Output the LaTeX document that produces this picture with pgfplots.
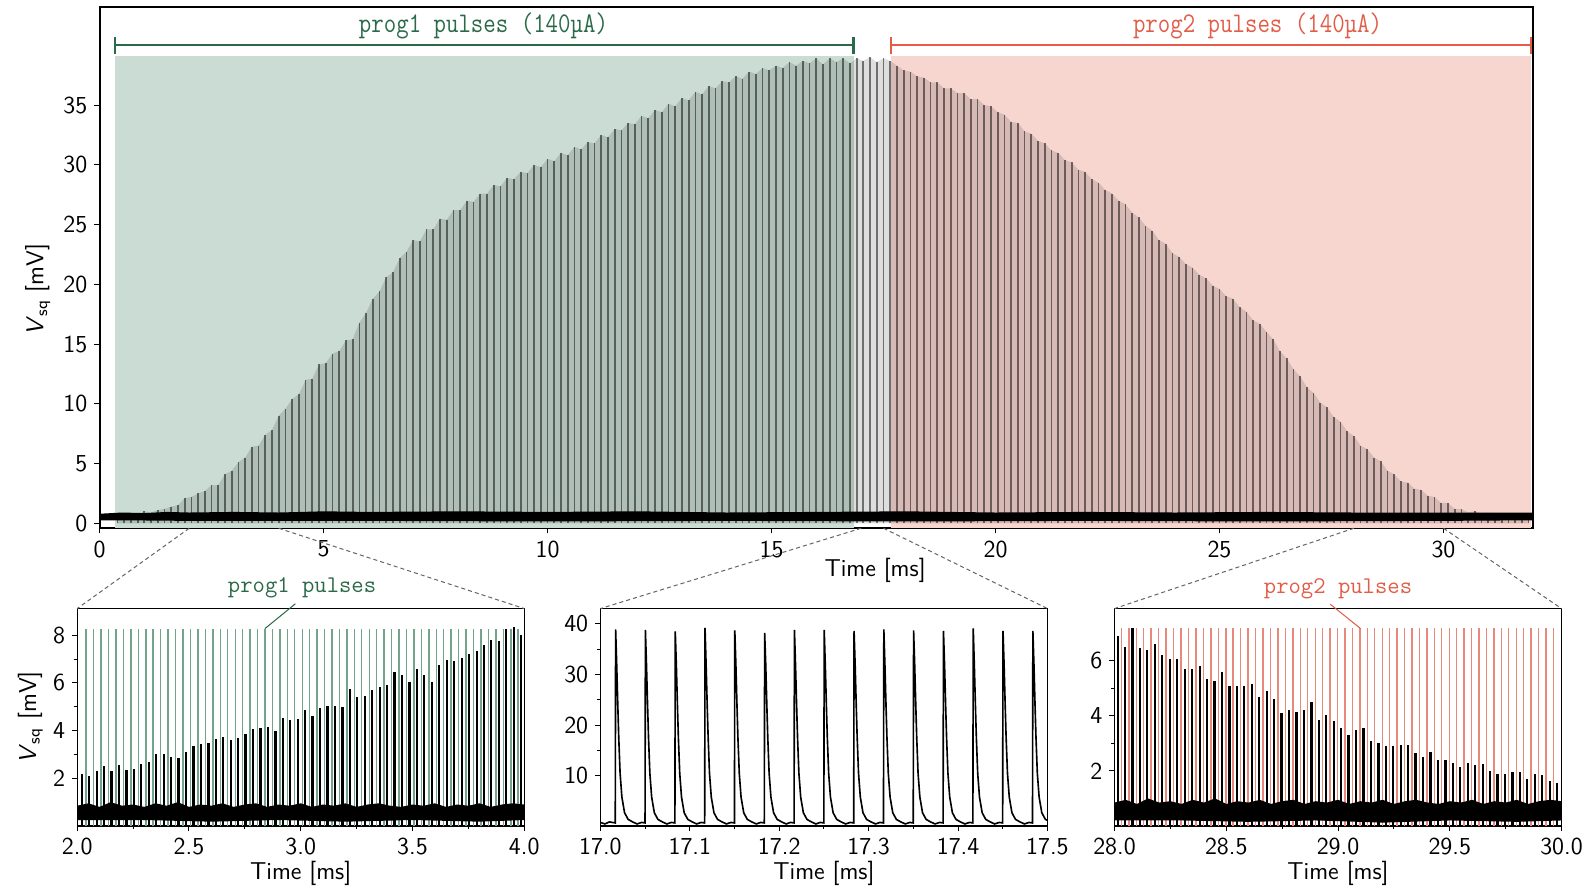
\documentclass[border=0pt]{standalone}
\usepackage{fontspec}
\usepackage{pgfplots}
\usepackage{pgfplotstable}
\pgfplotsset{compat=1.18}
\definecolor{progA}{HTML}{2B6A48}
\definecolor{progAshade}{HTML}{CADCD3}
\definecolor{progAline}{HTML}{74A38C}
\definecolor{progB}{HTML}{E25C48}
\definecolor{progBshade}{HTML}{F8D6D0}
\definecolor{progBline}{HTML}{E8887B}
\newfontfamily\condtt[FakeStretch=0.85]{Latin Modern Mono}
\newcommand{\lab}{\fontsize{12}{14}\selectfont\sffamily}
\newcommand{\ann}{\fontsize{11.8}{13}\selectfont\ttfamily}
\newcommand{\annbig}{\fontsize{14}{16}\selectfont\condtt}
\newcommand{\vsq}{\textit{V}\textsubscript{sq} [mV]}

\pgfplotsset{
  base/.style={scale only axis, anchor=north west,
    tick align=outside, xtick pos=left, ytick pos=left,
    major tick length=2.5pt, minor tick length=1.5pt,
    tick style={black, line width=0.5pt},
    tick label style={font=\lab},
    /pgf/number format/assume math mode=true},
  inset/.style={base, width=220pt, height=107pt,
    axis line style={line width=0.7pt},
    minor x tick num=1, minor y tick num=1,
    xticklabel style={/pgf/number format/.cd, fixed, zerofill, precision=1},
    xlabel={Time [ms]},
    xlabel style={font=\lab, at={(rel axis cs:0.5,0)}, anchor=center, yshift=-23.5pt}},
}

% pulse heights seen in the full trace (time in ms, peak in mV)
\pgfplotstableread{
t v
0.40 0.9
0.55 0.7
0.70 0.9
0.85 0.8
1.00 1.0
1.15 0.9
1.30 1.1
1.45 1.2
1.60 1.4
1.75 1.5
1.90 2.1
2.05 2.2
2.20 2.5
2.35 2.7
2.50 3.2
2.65 3.2
2.80 4.1
2.95 4.4
3.10 5.1
3.25 5.5
3.40 6.4
3.55 6.5
3.70 7.4
3.85 7.8
4.00 9.0
4.15 9.6
4.30 10.4
4.45 10.8
4.60 12.0
4.75 12.1
4.90 13.3
5.05 13.4
5.20 14.2
5.35 14.4
5.50 15.3
5.65 15.4
5.80 16.8
5.95 17.6
6.10 18.8
6.25 19.4
6.40 20.6
6.55 21.0
6.70 22.2
6.85 22.7
7.00 23.7
7.15 23.6
7.30 24.6
7.45 24.6
7.60 25.5
7.75 25.4
7.90 26.2
8.05 26.2
8.20 27.0
8.35 26.9
8.50 27.6
8.65 27.6
8.80 28.3
8.95 28.2
9.10 28.9
9.25 28.8
9.40 29.4
9.55 29.3
9.70 30.0
9.85 29.8
10.00 30.5
10.15 30.3
10.30 31.0
10.45 30.8
10.60 31.5
10.75 31.3
10.90 31.9
11.05 31.8
11.20 32.5
11.35 32.3
11.50 33.0
11.65 32.9
11.80 33.5
11.95 33.4
12.10 34.1
12.25 33.9
12.40 34.6
12.55 34.4
12.70 35.1
12.85 34.9
13.00 35.6
13.15 35.4
13.30 36.1
13.45 35.9
13.60 36.6
13.75 36.4
13.90 37.0
14.05 36.9
14.20 37.4
14.35 37.2
14.50 37.8
14.65 37.6
14.80 38.1
14.95 37.9
15.10 38.3
15.25 38.1
15.40 38.6
15.55 38.3
15.70 38.7
15.85 38.5
16.00 38.9
16.15 38.4
16.30 38.9
16.45 38.6
16.60 38.9
16.75 38.5
16.90 38.9
17.05 38.7
17.20 39.0
17.35 38.6
17.50 38.9
17.65 38.7
17.80 38.3
17.95 37.9
18.10 37.8
18.25 37.4
18.40 37.3
18.55 36.9
18.70 36.9
18.85 36.4
19.00 36.4
19.15 36.0
19.30 36.0
19.45 35.5
19.60 35.5
19.75 35.0
19.90 34.9
20.05 34.4
20.20 34.2
20.35 33.6
20.50 33.5
20.65 32.8
20.80 32.6
20.95 32.0
21.10 31.8
21.25 31.2
21.40 31.0
21.55 30.4
21.70 30.2
21.85 29.6
22.00 29.4
22.15 28.8
22.30 28.5
22.45 27.9
22.60 27.6
22.75 27.0
22.90 26.7
23.05 26.0
23.20 25.6
23.35 24.9
23.50 24.5
23.65 23.7
23.80 23.4
23.95 22.6
24.10 22.3
24.25 21.7
24.40 21.4
24.55 20.8
24.70 20.5
24.85 19.9
25.00 19.6
25.15 19.0
25.30 18.8
25.45 18.1
25.60 17.7
25.75 17.0
25.90 16.7
26.05 16.0
26.20 15.4
26.35 14.4
26.50 13.8
26.65 12.9
26.80 12.3
26.95 11.4
27.10 10.9
27.25 10.1
27.40 9.7
27.55 8.9
27.70 8.5
27.85 7.7
28.00 7.3
28.15 6.5
28.30 6.2
28.45 5.5
28.60 5.2
28.75 4.4
28.90 4.1
29.05 3.5
29.20 3.4
29.35 2.9
29.50 2.8
29.65 2.3
29.80 2.2
29.95 1.7
30.10 1.7
30.25 1.2
30.40 1.2
30.55 0.9
30.70 1.0
30.85 0.8
31.00 0.9
31.15 0.7
31.30 0.8
31.45 0.7
31.60 0.8
31.75 0.7
31.90 0.8
}\pulses

\begin{document}
\begin{tikzpicture}
\useasboundingbox (0,0) rectangle (784pt,-438.5pt);

% ---------------- main trace ----------------
\begin{axis}[base, at={(49pt,-3.5pt)}, width=705.5pt, height=256.5pt,
  axis line style={line width=1pt},
  xmin=0, xmax=32, ymin=-0.42, ymax=43.2,
  xtick={0,5,10,15,20,25,30}, ytick={0,5,10,15,20,25,30,35},
  xlabel={Time [ms]},
  xlabel style={font=\lab, at={(rel axis cs:0.541,0)}, anchor=center, yshift=-20.5pt},
  ylabel={\vsq},
  ylabel style={font=\lab, at={(rel axis cs:-0.0432,0.458)}, anchor=center}]

\addplot[fill=progAshade, draw=none] coordinates {(0.34,-0.42) (16.83,-0.42) (16.83,39.1) (0.34,39.1)} --cycle;
\addplot[fill=progBshade, draw=none] coordinates {(17.66,-0.42) (31.95,-0.42) (31.95,39.1) (17.66,39.1)} --cycle;

% decay tails between pulses show up as a grey haze under the envelope
\addplot[fill=black, fill opacity=0.13, draw=none, mark=none] table {\pulses} \closedcycle;
\addplot[ycomb, black, opacity=0.5, line width=0.85pt, mark=none] table {\pulses};

% noise floor
\addplot[fill=black, draw=none] coordinates {
 (0.02,0.25) (0.02,0.8) (0.5,0.9) (1,0.85) (1.5,0.95) (2,0.9) (3,0.95) (4,0.9)
 (5,1.0) (6,0.95) (8,1.0) (10,0.95) (12,1.0) (14,0.9) (16,0.95) (18,1.0)
 (20,0.9) (22,0.95) (24,0.9) (26,0.95) (28,0.9) (30,0.9) (31.98,0.9)
 (31.98,0.25) (30,0.2) (26,0.15) (22,0.2) (18,0.15) (14,0.2) (10,0.15)
 (6,0.2) (2,0.2) (0.5,0.25)} --cycle;

% programming-pulse brackets
\draw[progA, line width=1pt] (axis cs:0.34,40) -- (axis cs:16.83,40);
\draw[progA, line width=1pt] (axis cs:0.34,39.3) -- (axis cs:0.34,40.7);
\draw[progA, line width=1pt] (axis cs:16.83,39.3) -- (axis cs:16.83,40.7);
\draw[progB, line width=1pt] (axis cs:17.66,40) -- (axis cs:31.95,40);
\draw[progB, line width=1pt] (axis cs:17.66,39.3) -- (axis cs:17.66,40.7);
\draw[progB, line width=1pt] (axis cs:31.95,39.3) -- (axis cs:31.95,40.7);
\node[progA, font=\annbig] at (axis cs:8.57,41.6) {prog1 pulses (140µA)};
\node[progB, font=\annbig] at (axis cs:25.85,41.6) {prog2 pulses (140µA)};

\coordinate (m1) at (axis cs:2,-0.42);
\coordinate (m2) at (axis cs:4,-0.42);
\coordinate (m3) at (axis cs:17,-0.42);
\coordinate (m4) at (axis cs:17.5,-0.42);
\coordinate (m5) at (axis cs:28,-0.42);
\coordinate (m6) at (axis cs:30,-0.42);
\end{axis}

% ---------------- inset 1: 2-4 ms ----------------
\begin{axis}[inset, at={(38pt,-299.5pt)},
  xmin=2, xmax=4, ymin=0, ymax=9.12,
  xtick={2,2.5,3,3.5,4}, ytick={2,4,6,8},
  ylabel={\vsq},
  ylabel style={font=\lab, at={(rel axis cs:-0.105,0.5)}, anchor=center}]
\addplot[ycomb, progAline, line width=0.7pt, mark=none] coordinates {
 (2.040,8.28) (2.073,8.28) (2.107,8.28) (2.140,8.28) (2.173,8.28) (2.207,8.28)
 (2.240,8.28) (2.273,8.28) (2.307,8.28) (2.340,8.28) (2.373,8.28) (2.407,8.28)
 (2.440,8.28) (2.473,8.28) (2.507,8.28) (2.540,8.28) (2.573,8.28) (2.607,8.28)
 (2.640,8.28) (2.673,8.28) (2.707,8.28) (2.740,8.28) (2.773,8.28) (2.807,8.28)
 (2.840,8.28) (2.873,8.28) (2.907,8.28) (2.940,8.28) (2.973,8.28) (3.007,8.28)
 (3.040,8.28) (3.073,8.28) (3.107,8.28) (3.140,8.28) (3.173,8.28) (3.207,8.28)
 (3.240,8.28) (3.273,8.28) (3.307,8.28) (3.340,8.28) (3.373,8.28) (3.407,8.28)
 (3.440,8.28) (3.473,8.28) (3.507,8.28) (3.540,8.28) (3.573,8.28) (3.607,8.28)
 (3.640,8.28) (3.673,8.28) (3.707,8.28) (3.740,8.28) (3.773,8.28) (3.807,8.28)
 (3.840,8.28) (3.873,8.28) (3.907,8.28) (3.940,8.28) (3.973,8.28)};
\addplot[fill=black, draw=none] coordinates {
 (2.00,0.25) (2.00,0.85) (2.05,0.95) (2.10,0.80) (2.15,1.00) (2.20,0.85) (2.25,0.90)
 (2.30,0.80) (2.35,0.95) (2.40,0.85) (2.45,1.00) (2.50,0.80) (2.55,0.90) (2.60,0.85)
 (2.65,0.95) (2.70,0.80) (2.75,0.90) (2.80,0.95) (2.85,0.80) (2.90,0.90) (2.95,0.85)
 (3.00,0.95) (3.05,0.80) (3.10,0.90) (3.15,0.85) (3.20,0.95) (3.25,0.80) (3.30,0.90)
 (3.35,0.95) (3.40,0.85) (3.45,0.80) (3.50,0.90) (3.55,0.85) (3.60,0.95) (3.65,0.80)
 (3.70,0.90) (3.75,0.85) (3.80,0.95) (3.85,0.80) (3.90,0.90) (3.95,0.95) (4.00,0.90)
 (4.00,0.25) (3.80,0.18) (3.50,0.25) (3.20,0.18) (2.90,0.25) (2.60,0.18) (2.30,0.25)} --cycle;
\addplot[ycomb, black, line width=1.1pt, mark=none] coordinates {
 (2.020,2.20) (2.053,2.10) (2.087,2.30) (2.120,2.50) (2.153,2.30) (2.187,2.55)
 (2.220,2.35) (2.253,2.40) (2.287,2.60) (2.320,2.70) (2.353,3.00) (2.387,3.00)
 (2.420,2.90) (2.453,2.85) (2.487,3.10) (2.520,3.35) (2.553,3.45) (2.587,3.50)
 (2.620,3.65) (2.653,3.75) (2.687,3.60) (2.720,3.70) (2.753,3.85) (2.787,4.05)
 (2.820,4.10) (2.853,4.15) (2.887,4.00) (2.920,4.55) (2.953,4.45) (2.987,4.50)
 (3.020,4.85) (3.053,4.60) (3.087,4.95) (3.120,5.05) (3.153,5.05) (3.187,5.00)
 (3.220,5.75) (3.253,5.40) (3.287,5.45) (3.320,5.70) (3.353,5.85) (3.387,5.90)
 (3.420,6.45) (3.453,6.35) (3.487,6.05) (3.520,6.60) (3.553,6.35) (3.587,6.05)
 (3.620,6.75) (3.653,6.95) (3.687,6.90) (3.720,7.05) (3.753,7.20) (3.787,7.35)
 (3.820,7.60) (3.853,7.80) (3.887,7.75) (3.920,8.25) (3.953,8.35) (3.987,8.00)};
\coordinate (a1) at (rel axis cs:0,1);
\coordinate (a2) at (rel axis cs:1,1);
\coordinate (at) at (axis cs:3.006,9.99);
\coordinate (ab) at (axis cs:2.976,9.32);
\coordinate (ae) at (axis cs:2.840,8.28);
\end{axis}

% ---------------- inset 2: 17.0-17.5 ms ----------------
\begin{axis}[inset, at={(295.5pt,-299.5pt)},
  xmin=17, xmax=17.5, ymin=0.1, ymax=43,
  xtick={17,17.1,17.2,17.3,17.4,17.5}, ytick={10,20,30,40}]
\addplot[black, line width=0.8pt, mark=none] coordinates {
 (17.0000,0.8) (17.0050,0.5) (17.0100,0.9) (17.0166,0.7)
 (17.0170,38.9) (17.0182,32) (17.0195,23.5) (17.0205,17.5) (17.0220,10.5) (17.0240,5.8)
 (17.0270,2.7) (17.0310,1.4) (17.0360,0.9) (17.0410,0.5) (17.0460,0.8) (17.0499,0.7)
 (17.0503,38.8) (17.0515,32) (17.0528,23.5) (17.0538,17.5) (17.0553,10.5) (17.0573,5.8)
 (17.0603,2.7) (17.0643,1.4) (17.0693,0.9) (17.0743,0.5) (17.0793,0.8) (17.0833,0.7)
 (17.0837,38.5) (17.0849,32) (17.0862,23.5) (17.0872,17.5) (17.0887,10.5) (17.0907,5.8)
 (17.0937,2.7) (17.0977,1.4) (17.1027,0.9) (17.1077,0.5) (17.1127,0.8) (17.1166,0.7)
 (17.1170,39.2) (17.1182,32) (17.1195,23.5) (17.1205,17.5) (17.1220,10.5) (17.1240,5.8)
 (17.1270,2.7) (17.1310,1.4) (17.1360,0.9) (17.1410,0.5) (17.1460,0.8) (17.1499,0.7)
 (17.1503,38.7) (17.1515,32) (17.1528,23.5) (17.1538,17.5) (17.1553,10.5) (17.1573,5.8)
 (17.1603,2.7) (17.1643,1.4) (17.1693,0.9) (17.1743,0.5) (17.1793,0.8) (17.1833,0.7)
 (17.1837,38.2) (17.1849,32) (17.1862,23.5) (17.1872,17.5) (17.1887,10.5) (17.1907,5.8)
 (17.1937,2.7) (17.1977,1.4) (17.2027,0.9) (17.2077,0.5) (17.2127,0.8) (17.2166,0.7)
 (17.2170,38.8) (17.2182,32) (17.2195,23.5) (17.2205,17.5) (17.2220,10.5) (17.2240,5.8)
 (17.2270,2.7) (17.2310,1.4) (17.2360,0.9) (17.2410,0.5) (17.2460,0.8) (17.2499,0.7)
 (17.2503,38.8) (17.2515,32) (17.2528,23.5) (17.2538,17.5) (17.2553,10.5) (17.2573,5.8)
 (17.2603,2.7) (17.2643,1.4) (17.2693,0.9) (17.2743,0.5) (17.2793,0.8) (17.2833,0.7)
 (17.2837,38.6) (17.2849,32) (17.2862,23.5) (17.2872,17.5) (17.2887,10.5) (17.2907,5.8)
 (17.2937,2.7) (17.2977,1.4) (17.3027,0.9) (17.3077,0.5) (17.3127,0.8) (17.3166,0.7)
 (17.3170,38.9) (17.3182,32) (17.3195,23.5) (17.3205,17.5) (17.3220,10.5) (17.3240,5.8)
 (17.3270,2.7) (17.3310,1.4) (17.3360,0.9) (17.3410,0.5) (17.3460,0.8) (17.3499,0.7)
 (17.3503,38.7) (17.3515,32) (17.3528,23.5) (17.3538,17.5) (17.3553,10.5) (17.3573,5.8)
 (17.3603,2.7) (17.3643,1.4) (17.3693,0.9) (17.3743,0.5) (17.3793,0.8) (17.3833,0.7)
 (17.3837,38.6) (17.3849,32) (17.3862,23.5) (17.3872,17.5) (17.3887,10.5) (17.3907,5.8)
 (17.3937,2.7) (17.3977,1.4) (17.4027,0.9) (17.4077,0.5) (17.4127,0.8) (17.4166,0.7)
 (17.4170,39.1) (17.4182,32) (17.4195,23.5) (17.4205,17.5) (17.4220,10.5) (17.4240,5.8)
 (17.4270,2.7) (17.4310,1.4) (17.4360,0.9) (17.4410,0.5) (17.4460,0.8) (17.4499,0.7)
 (17.4503,38.6) (17.4515,32) (17.4528,23.5) (17.4538,17.5) (17.4553,10.5) (17.4573,5.8)
 (17.4603,2.7) (17.4643,1.4) (17.4693,0.9) (17.4743,0.5) (17.4793,0.8) (17.4833,0.7)
 (17.4837,38.6) (17.4849,32) (17.4862,23.5) (17.4872,17.5) (17.4887,10.5) (17.4907,5.8)
 (17.4937,2.7) (17.4977,1.4) (17.5000,1.2)};
\coordinate (b1) at (rel axis cs:0,1);
\coordinate (b2) at (rel axis cs:1,1);
\end{axis}

% ---------------- inset 3: 28-30 ms ----------------
\begin{axis}[inset, at={(548.5pt,-299.5pt)},
  xmin=28, xmax=30, ymin=0, ymax=7.9,
  xtick={28,28.5,29,29.5,30}, ytick={2,4,6}]
\addplot[ycomb, progBline, line width=0.7pt, mark=none] coordinates {
 (28.031,7.18) (28.064,7.18) (28.098,7.18) (28.131,7.18) (28.164,7.18) (28.198,7.18)
 (28.231,7.18) (28.264,7.18) (28.298,7.18) (28.331,7.18) (28.364,7.18) (28.398,7.18)
 (28.431,7.18) (28.464,7.18) (28.498,7.18) (28.531,7.18) (28.564,7.18) (28.598,7.18)
 (28.631,7.18) (28.664,7.18) (28.698,7.18) (28.731,7.18) (28.764,7.18) (28.798,7.18)
 (28.831,7.18) (28.864,7.18) (28.898,7.18) (28.931,7.18) (28.964,7.18) (28.998,7.18)
 (29.031,7.18) (29.064,7.18) (29.098,7.18) (29.131,7.18) (29.164,7.18) (29.198,7.18)
 (29.231,7.18) (29.264,7.18) (29.298,7.18) (29.331,7.18) (29.364,7.18) (29.398,7.18)
 (29.431,7.18) (29.464,7.18) (29.498,7.18) (29.531,7.18) (29.564,7.18) (29.598,7.18)
 (29.631,7.18) (29.664,7.18) (29.698,7.18) (29.731,7.18) (29.764,7.18) (29.798,7.18)
 (29.831,7.18) (29.864,7.18) (29.898,7.18) (29.931,7.18) (29.964,7.18)};
\addplot[fill=black, draw=none] coordinates {
 (28.00,0.20) (28.00,0.85) (28.05,0.95) (28.10,0.80) (28.15,1.00) (28.20,0.85) (28.25,0.90)
 (28.30,0.80) (28.35,0.95) (28.40,0.85) (28.45,1.00) (28.50,0.80) (28.55,0.90) (28.60,0.85)
 (28.65,0.95) (28.70,0.80) (28.75,0.90) (28.80,0.95) (28.85,0.80) (28.90,0.90) (28.95,0.85)
 (29.00,0.95) (29.05,0.80) (29.10,0.90) (29.15,0.85) (29.20,0.95) (29.25,0.80) (29.30,0.90)
 (29.35,0.95) (29.40,0.85) (29.45,0.80) (29.50,0.90) (29.55,0.85) (29.60,0.95) (29.65,0.80)
 (29.70,0.90) (29.75,0.85) (29.80,0.95) (29.85,0.80) (29.90,0.90) (29.95,0.95) (30.00,0.90)
 (30.00,0.20) (29.80,0.15) (29.50,0.20) (29.20,0.12) (28.90,0.20) (28.60,0.15) (28.30,0.20)} --cycle;
\addplot[ycomb, black, line width=1.1pt, mark=none] coordinates {
 (28.014,6.90) (28.047,6.50) (28.081,7.20) (28.114,6.45) (28.147,6.40) (28.181,6.60)
 (28.214,6.20) (28.247,6.05) (28.281,6.05) (28.314,5.70) (28.347,5.70) (28.381,5.80)
 (28.414,5.35) (28.447,5.25) (28.481,5.60) (28.514,5.10) (28.547,5.10) (28.581,5.10)
 (28.614,5.15) (28.647,4.70) (28.681,4.90) (28.714,4.60) (28.747,4.10) (28.781,4.20)
 (28.814,4.15) (28.847,4.20) (28.881,4.50) (28.914,3.85) (28.947,4.05) (28.981,3.80)
 (29.014,3.55) (29.047,3.30) (29.081,3.50) (29.114,3.55) (29.147,3.10) (29.181,3.00)
 (29.214,2.90) (29.247,2.90) (29.281,2.95) (29.314,2.95) (29.347,2.65) (29.381,2.50)
 (29.414,2.70) (29.447,2.40) (29.481,2.40) (29.514,2.30) (29.547,2.15) (29.581,2.30)
 (29.614,2.20) (29.647,2.25) (29.681,2.00) (29.714,1.90) (29.747,1.90) (29.781,1.95)
 (29.814,1.95) (29.847,1.70) (29.881,1.90) (29.914,1.85) (29.947,1.65) (29.981,1.55)};
\coordinate (c1) at (rel axis cs:0,1);
\coordinate (c2) at (rel axis cs:1,1);
\coordinate (ct) at (axis cs:29.0,8.63);
\coordinate (cb) at (axis cs:28.965,8.06);
\coordinate (ce) at (axis cs:29.10,7.18);
\end{axis}

% zoom connectors and inset annotations
\begin{scope}[black!60, line width=0.5pt, dash pattern=on 2pt off 1.5pt]
\draw (m1) -- (a1); \draw (m2) -- (a2);
\draw (m3) -- (b1); \draw (m4) -- (b2);
\draw (m5) -- (c1); \draw (m6) -- (c2);
\end{scope}
\node[progA, font=\ann] at (at) {prog1 pulses};
\draw[progA, line width=0.5pt] (ab) -- (ae);
\node[progB, font=\ann] at (ct) {prog2 pulses};
\draw[progB, line width=0.5pt] (cb) -- (ce);
\end{tikzpicture}
\end{document}
